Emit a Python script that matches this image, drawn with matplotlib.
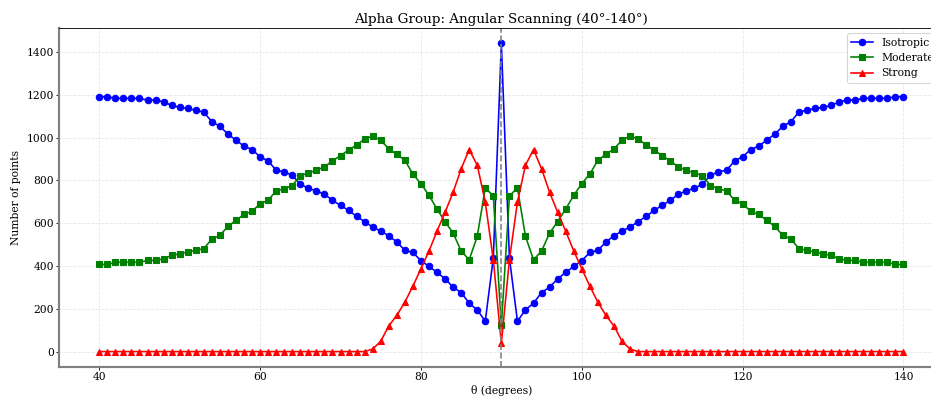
import numpy as np
import matplotlib
matplotlib.use("Agg")
import matplotlib.pyplot as plt

plt.rcParams['font.family'] = ['DejaVu Serif']

# angles 40..140 deg, one step per degree
theta = np.arange(40, 141)

# left half (40..89), peak at 90, right half mirrors the left
iso_left = [1191, 1191, 1183, 1183, 1183, 1183, 1175, 1175, 1167, 1150,
            1141, 1136, 1128, 1119, 1074, 1053, 1016, 988, 960, 944,
            910, 891, 847, 840, 824, 782, 763, 751, 735, 707,
            683, 660, 632, 607, 582, 563, 541, 512, 473, 463,
            425, 398, 370, 340, 301, 276, 226, 195, 142, 438]
iso_peak = 1440

mod_left = [407, 407, 417, 417, 417, 417, 426, 426, 434, 449,
            457, 465, 473, 481, 526, 543, 585, 613, 641, 655,
            691, 707, 751, 760, 776, 822, 835, 847, 863, 891,
            916, 941, 966, 993, 1007, 988, 947, 922, 894, 829,
            785, 730, 666, 607, 554, 470, 429, 538, 765, 727]
mod_peak = 122

strong_left = [0] * 34 + [12, 48, 120, 169, 231, 306, 387, 470, 563, 651,
                          744, 854, 944, 871, 699, 429]
strong_peak = 38

isotropic = iso_left + [iso_peak] + iso_left[::-1]
moderate = mod_left + [mod_peak] + mod_left[::-1]
strong = strong_left + [strong_peak] + strong_left[::-1]

DPI = 77.6
fig = plt.figure(figsize=(12, 5.142), dpi=DPI)
ax = fig.add_axes([0.0634, 0.0802, 0.95, 0.8496])

ax.plot(theta, isotropic, '-o', color='blue', markersize=6, linewidth=1.5, label='Isotropic')
ax.plot(theta, moderate, '-s', color='green', markersize=6, linewidth=1.5, label='Moderate')
ax.plot(theta, strong, '-^', color='red', markersize=6, linewidth=1.5, label='Strong')
ax.axvline(90, color='gray', linestyle='--', linewidth=1.5)

ax.set_title('Alpha Group: Angular Scanning (40°-140°)', fontsize=12.5, pad=5)
ax.set_xlabel('θ (degrees)', fontsize=10, labelpad=3)
ax.set_ylabel('Number of points', fontsize=10, labelpad=5)
ax.tick_params(labelsize=10, length=2.8, pad=1.8)
ax.grid(True, linestyle='--', alpha=0.3)
for side in ['left', 'bottom']:
    ax.spines[side].set_color('gray')
    ax.spines[side].set_linewidth(2)
ax.legend(loc='upper right', fontsize=10)

fig.savefig('out.png', dpi=DPI)
